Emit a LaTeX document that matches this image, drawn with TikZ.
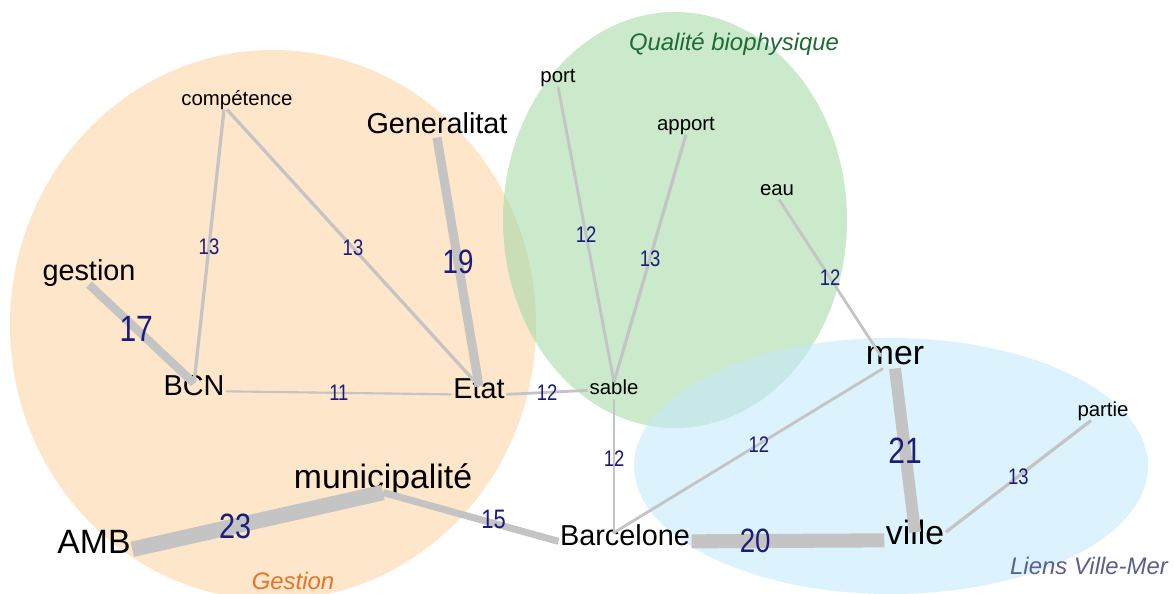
\documentclass[tikz,border=0pt]{standalone}
\usepackage{fontspec}
\setmainfont{Liberation Sans}
\newfontfamily\numfont[FakeStretch=0.82]{Liberation Sans}
\usetikzlibrary{positioning,calc}
\definecolor{gestfill}{RGB}{253,230,201}
\definecolor{biofill}{RGB}{168,218,168}
\definecolor{liensfill}{RGB}{197,233,250}
\definecolor{linkgray}{RGB}{196,196,196}
\definecolor{numblue}{RGB}{28,28,122}
\definecolor{gesttext}{RGB}{230,115,42}
\definecolor{biotext}{RGB}{31,107,53}
\definecolor{lienstext}{RGB}{91,95,143}

\begin{document}
\begin{tikzpicture}[
x=0.025cm,
y=-0.025cm,
every node/.style={
inner sep=1pt,
text height=0.72em,
text depth=0.2em
},
bigword/.style={anchor=base,font=\fontsize{24}{24}\selectfont},
midword/.style={anchor=base,font=\fontsize{20.5}{20.5}\selectfont},
smallword/.style={anchor=base,font=\fontsize{14.5}{14.5}\selectfont},
grouptitle/.style={anchor=base,font=\fontsize{17}{17}\selectfont\itshape},
link/.style={draw=linkgray,line width=#1},
weight/.style={font=\numfont\fontsize{#1}{#1}\selectfont,text=numblue,
inner sep=0pt,text height=,text depth=}
]
\useasboundingbox (0,0) rectangle (1174,593);

% clusters
\fill[gestfill] (273,325) ellipse [x radius=263,y radius=275];
\fill[biofill,fill opacity=0.6] (675,220) ellipse [x radius=172,y radius=208];
\fill[liensfill,fill opacity=0.6] (891,466) ellipse [x radius=257,y radius=128];

\node[grouptitle,text=biotext] (Tbio) at (734,50) {Qualité biophysique};
\node[grouptitle,text=gesttext] (Tgest) at (293,589) {Gestion};
\node[grouptitle,text=lienstext] (Tliens) at (1089,574) {Liens Ville-Mer};

% words
\node[smallword] (comp) at (237,105) {compétence};
\node[midword] (gen) at (437,133) {Generalitat};
\node[midword] (gest) at (89,280) {gestion};
\node[midword] (bcn) at (194,395) {BCN};
\node[midword] (etat) at (479,398) {Etat};
\node[bigword] (muni) at (383,488) {municipalité};
\node[bigword] (amb) at (94,553) {AMB};
\node[midword] (barc) at (625,545) {Barcelone};
\node[bigword] (ville) at (915,544) {ville};
\node[bigword] (mer) at (895,364) {mer};
\node[smallword] (partie) at (1103,416) {partie};
\node[smallword] (sable) at (614,394) {sable};
\node[smallword] (eau) at (777,195) {eau};
\node[smallword] (apport) at (686,130) {apport};
\node[smallword] (port) at (558,82) {port};

% co-occurrence links
\draw[link=2.3pt] ($(comp.south)+(-13,0)$) -- (bcn.north) node[weight=16,pos=0.5] {13};
\draw[link=2.3pt] ($(comp.south)+(-10,0)$) -- (etat.north) node[weight=16,pos=0.5] {13};
\draw[link=6.5pt] (gen.south) -- (etat.north) node[weight=24,pos=0.5] {19};
\draw[link=6pt] (gest.south) -- (bcn.north) node[weight=26,pos=0.45] {17};
\draw[link=1.5pt] (bcn.east) -- (etat.west) node[weight=16,pos=0.5] {11};
\draw[link=2pt] (etat.east) -- (sable.west) node[weight=16,pos=0.5] {12};
\draw[link=2pt] (port.south) -- (sable.north) node[weight=16,pos=0.5] {12};
\draw[link=2.3pt] (apport.south) -- (sable.north) node[weight=16,pos=0.5] {13};
\draw[link=2pt] ($(eau.south)+(2,0)$) -- ($(mer.north)+(-14,4)$) node[weight=16,pos=0.5] {12};
\draw[link=2pt] (sable.south) -- (sable.south |- barc.north) node[weight=16,pos=0.45] {12};
\draw[link=8.5pt] (mer.south) -- (ville.north) node[weight=26,pos=0.5] {21};
\draw[link=2pt] ($(mer.south)+(-12,0)$) -- ($(barc.north)+(-12,0)$) node[weight=16,pos=0.46] {12};
\draw[link=2.3pt] ($(partie.south)+(-12,0)$) -- (ville.north east) node[weight=16,pos=0.5] {13};
\draw[link=10pt] (barc.east) -- (ville.west) node[weight=24,pos=0.33] {20};
\draw[link=5pt] (muni.south) -- (barc.west) node[weight=19,pos=0.63,yshift=3pt] {15};
\draw[link=11pt] (amb.east) -- (muni.south) node[weight=25,pos=0.41] {23};
\end{tikzpicture}
\end{document}
